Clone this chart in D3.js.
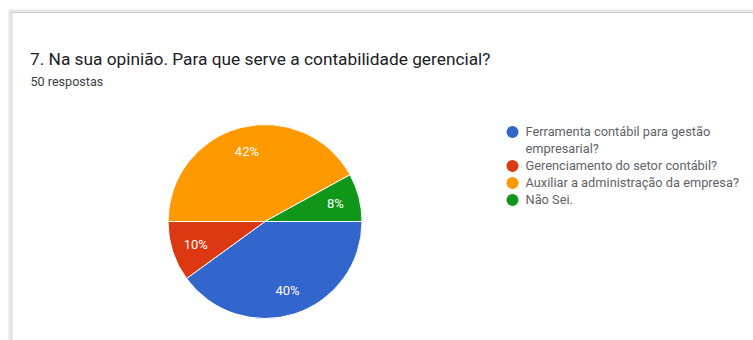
<!DOCTYPE html>
<html>
<head>
<meta charset="utf-8">
<script src="https://cdn.jsdelivr.net/npm/d3@7"></script>
<style>
  html, body { margin: 0; padding: 0; background: #ffffff; }
  svg { display: block; font-family: Roboto, Arial, sans-serif; }
</style>
</head>
<body>
<svg id="chart" width="753" height="340"></svg>
<script>
// Survey question and answer breakdown
const title = "7. Na sua opinião. Para que serve a contabilidade gerencial?";
const subtitle = "50 respostas";
const categories = [
  "Ferramenta contábil para gestão empresarial?",
  "Gerenciamento do setor contábil?",
  "Auxiliar a administração da empresa?",
  "Não Sei."
];
const legendLines = [
  ["Ferramenta contábil para gestão", "empresarial?"],
  ["Gerenciamento do setor contábil?"],
  ["Auxiliar a administração da empresa?"],
  ["Não Sei."]
];
const counts = [20, 5, 21, 4];
const colors = ["#3366cc", "#dc3912", "#ff9900", "#109618"];

const svg = d3.select("#chart");
const total = d3.sum(counts);

// Card frame
const card = svg.append("g");
card.append("rect")
  .attr("x", 10).attr("y", 11).attr("width", 760).attr("height", 340)
  .attr("fill", "none").attr("stroke", "#e6e6e6").attr("stroke-width", 3);
card.append("rect")
  .attr("x", 12).attr("y", 12.5).attr("width", 760).attr("height", 340)
  .attr("fill", "#ffffff").attr("stroke", "#cfcfcf").attr("stroke-width", 1);

// Heading
svg.append("text")
  .attr("x", 30).attr("y", 64.5)
  .attr("font-size", 17.3).attr("fill", "#202124")
  .text(title);
svg.append("text")
  .attr("x", 30.5).attr("y", 86)
  .attr("font-size", 12.6).attr("fill", "#3c4043")
  .text(subtitle);

// Pie
const cx = 265, cy = 221.5, r = 97;
const color = d3.scaleOrdinal().domain(categories).range(colors);
const pie = d3.pie().sort(null)
  .startAngle(Math.PI / 2).endAngle(Math.PI / 2 + 2 * Math.PI)
  .value(d => d.value);
const data = categories.map((c, i) => ({ name: c, value: counts[i] }));
const arcs = pie(data);
const arc = d3.arc().innerRadius(0).outerRadius(r);
const labelArc = d3.arc().innerRadius(r * 0.75).outerRadius(r * 0.75);

const g = svg.append("g").attr("transform", `translate(${cx},${cy})`);
g.selectAll("path.slice")
  .data(arcs)
  .join("path")
  .attr("class", "slice")
  .attr("d", arc)
  .attr("fill", d => color(d.data.name))
  .attr("stroke", "#ffffff")
  .attr("stroke-width", 1);

g.selectAll("text.pct")
  .data(arcs)
  .join("text")
  .attr("class", "pct")
  .attr("transform", d => `translate(${labelArc.centroid(d)})`)
  .attr("text-anchor", "middle")
  .attr("dy", "0.35em")
  .attr("font-size", 13)
  .attr("fill", "#ffffff")
  .text(d => d3.format(".0%")(d.data.value / total));

// Legend
const legend = svg.append("g").attr("transform", "translate(512.5,132)");
let yPos = 0;
legendLines.forEach((lines, i) => {
  const item = legend.append("g").attr("transform", `translate(0,${yPos})`);
  item.append("circle").attr("r", 6).attr("fill", colors[i]);
  lines.forEach((ln, j) => {
    item.append("text")
      .attr("x", 13).attr("y", j * 17)
      .attr("dy", "0.35em")
      .attr("font-size", 12.8)
      .attr("fill", "#5f6368")
      .text(ln);
  });
  yPos += lines.length * 17;
});
</script>
</body>
</html>
